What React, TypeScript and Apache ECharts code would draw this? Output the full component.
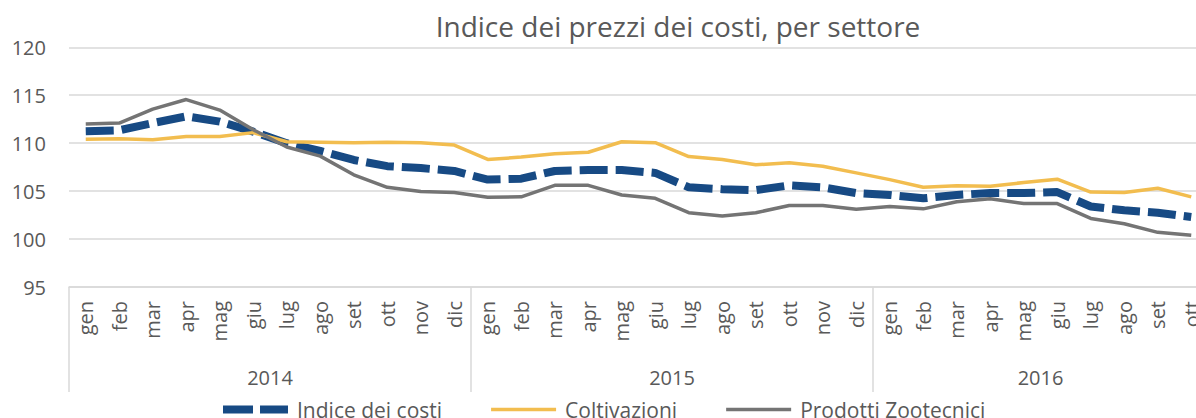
import React, { useEffect, useRef } from "react";
import * as echarts from "echarts";

const monthNames = ["gen", "feb", "mar", "apr", "mag", "giu", "lug", "ago", "set", "ott", "nov", "dic"];
const years = ["2014", "2015", "2016"];
const monthsPerYear = [12, 12, 10];
const categories: string[] = [];
monthsPerYear.forEach((n) => {
  for (let i = 0; i < n; i++) categories.push(monthNames[i]);
});

const yearStarts = [0, 12, 24];
const yearCenters = [6, 18, 29];

const indiceCosti = [
  111.25, 111.35, 112.1, 112.8, 112.25, 111.2, 110.0, 109.2, 108.25, 107.6, 107.4, 107.1,
  106.2, 106.3, 107.1, 107.2, 107.2, 106.9, 105.4, 105.2, 105.1, 105.6, 105.4, 104.8,
  104.6, 104.25, 104.6, 104.8, 104.8, 104.9, 103.4, 103.0, 102.75, 102.3,
];
const coltivazioni = [
  110.4, 110.45, 110.35, 110.7, 110.7, 111.1, 110.15, 110.1, 110.05, 110.1, 110.05, 109.8,
  108.3, 108.55, 108.9, 109.05, 110.15, 110.05, 108.6, 108.3, 107.75, 107.95, 107.6, 106.9,
  106.2, 105.4, 105.55, 105.5, 105.9, 106.25, 104.9, 104.85, 105.3, 104.4,
];
const zootecnici = [
  112.0, 112.1, 113.55, 114.55, 113.45, 111.4, 109.6, 108.65, 106.7, 105.4, 104.95, 104.85,
  104.35, 104.4, 105.6, 105.6, 104.6, 104.25, 102.75, 102.4, 102.75, 103.5, 103.5, 103.1,
  103.4, 103.15, 103.9, 104.2, 103.7, 103.7, 102.15, 101.6, 100.7, 100.4,
];

const FONT = "'Open Sans', sans-serif";
const TXT = "#595959";
const GRID = "#D9D9D9";
const BLUE = "#174A84";
const GOLD = "#F2BD4F";
const GRAY = "#747474";

export default function App() {
  const ref = useRef<HTMLDivElement>(null);
  useEffect(() => {
    if (!ref.current) return;
    const chart = echarts.init(ref.current, undefined, { renderer: "svg" });
    chart.setOption({
      animation: false,
      textStyle: { fontFamily: FONT },
      title: {
        text: "Indice dei prezzi dei costi, per settore",
        left: 673,
        textAlign: "center",
        top: 7,
        textStyle: { fontFamily: FONT, fontSize: 28, fontWeight: "normal", color: TXT },
      },
      legend: {
        left: 218,
        top: 394,
        itemWidth: 65,
        itemHeight: 20,
        itemGap: 49,
        symbolKeepAspect: true,
        textStyle: { fontFamily: FONT, fontSize: 21, color: TXT, padding: [0, 0, 0, 4] },
        data: [
          { name: "Indice dei costi", icon: "path://M0,0H30V8H0Z M37,0H65V8H37Z" },
          { name: "Coltivazioni", icon: "path://M0,0H65V3.5H0Z" },
          { name: "Prodotti Zootecnici", icon: "path://M0,0H65V3.5H0Z" },
        ],
      },
      grid: { left: 69, right: 52, top: 47.3, height: 239.7, containLabel: false },
      xAxis: [
        {
          type: "category",
          data: categories,
          boundaryGap: true,
          axisLine: { lineStyle: { color: GRID, width: 1.5 } },
          axisTick: { show: false },
          axisLabel: {
            rotate: 90,
            interval: 0,
            margin: 14,
            fontFamily: FONT,
            fontSize: 20,
            color: TXT,
          },
        },
        {
          type: "value",
          position: "bottom",
          min: 0,
          max: 34,
          axisLine: { show: false },
          splitLine: { show: false },
          axisTick: {
            show: true,
            customValues: yearStarts,
            length: 105,
            lineStyle: { color: GRID, width: 1.5 },
          },
          axisLabel: {
            customValues: yearCenters,
            margin: 80,
            fontFamily: FONT,
            fontSize: 20,
            color: TXT,
            formatter: (v: number) => years[yearCenters.indexOf(v)] ?? "",
          },
        },
      ],
      yAxis: {
        type: "value",
        min: 95,
        max: 120,
        interval: 5,
        axisLine: { show: false },
        axisTick: { show: false },
        splitLine: { lineStyle: { color: GRID, width: 1.5 } },
        axisLabel: { fontFamily: FONT, fontSize: 20, color: TXT, margin: 23 },
      },
      series: [
        {
          name: "Indice dei costi",
          type: "line",
          data: indiceCosti,
          symbol: "none",
          lineStyle: { color: BLUE, width: 8, type: [28, 8], cap: "butt" },
          itemStyle: { color: BLUE },
        },
        {
          name: "Coltivazioni",
          type: "line",
          data: coltivazioni,
          symbol: "none",
          lineStyle: { color: GOLD, width: 3.5 },
          itemStyle: { color: GOLD },
        },
        {
          name: "Prodotti Zootecnici",
          type: "line",
          data: zootecnici,
          symbol: "none",
          lineStyle: { color: GRAY, width: 3.5 },
          itemStyle: { color: GRAY },
        },
      ],
    });
    return () => chart.dispose();
  }, []);
  return (
    <div style={{ position: "fixed", left: 0, top: 0, width: 1196, height: 418, overflow: "hidden", background: "#fff" }}>
      <div ref={ref} style={{ width: 1260, height: 418 }} />
    </div>
  );
}
